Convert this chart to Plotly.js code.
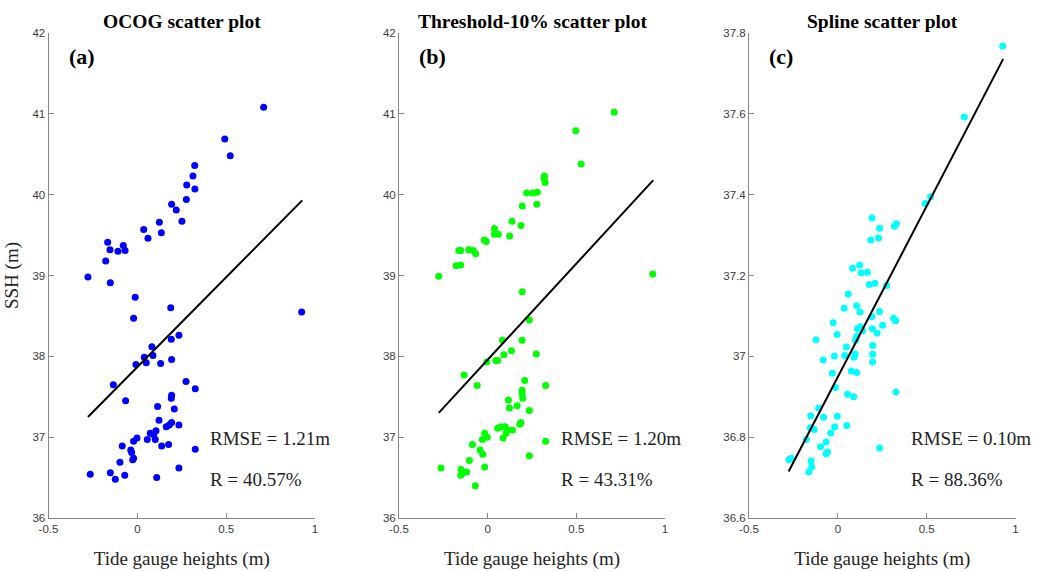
<!DOCTYPE html>
<html>
<head>
<meta charset="utf-8">
<script src="https://cdn.plot.ly/plotly-3.0.1.min.js"></script>
<style>html,body{margin:0;padding:0;background:#fff}#chart{width:1040px;height:571px}</style>
</head>
<body>
<div id="chart"></div>
<script>
// ---- Panel (a) OCOG ----
const ocogX = [0.711,0.492,0.523,0.323,0.313,0.278,0.324,0.276,0.193,0.219,0.251,0.124,0.036,0.135,0.060,-0.167,-0.079,-0.154,-0.109,-0.069,-0.178,-0.278,
  -0.152,-0.012,0.188,0.925,-0.021,0.234,0.191,0.082,0.039,0.088,-0.008,0.050,0.131,0.193,-0.135,0.274,0.326,-0.066,0.193,0.191,0.114,0.208,0.122,0.193,0.180,0.163,0.234,0.105,0.073,0.092,-0.002,-0.021,0.056,0.101,0.176,0.137,-0.085,0.326,-0.037,-0.032,-0.021,-0.026,-0.098,0.234,-0.265,-0.152,-0.071,-0.124,0.109];
const ocogY = [41.08,40.69,40.48,40.36,40.23,40.12,40.07,39.94,39.88,39.81,39.67,39.66,39.57,39.53,39.46,39.41,39.37,39.32,39.30,39.31,39.18,38.98,
  38.91,38.73,38.60,38.55,38.47,38.26,38.21,38.12,37.99,38.01,37.90,37.92,37.91,37.96,37.65,37.69,37.60,37.45,37.52,37.48,37.38,37.35,37.21,37.18,37.15,37.13,37.15,37.08,37.05,37.03,36.99,36.95,36.97,36.97,36.91,36.89,36.89,36.85,36.84,36.81,36.74,36.72,36.69,36.62,36.54,36.56,36.53,36.48,36.50];
const ocogFitX = [-0.278, 0.928];
const ocogFitY = [37.25, 39.93];

// ---- Panel (b) Threshold-10% ----
const thrX = [0.714,0.497,0.527,0.320,0.318,0.324,0.220,0.256,0.280,0.277,0.195,0.137,0.188,0.038,0.038,0.060,0.124,-0.019,-0.008,-0.107,-0.081,-0.068,-0.163,-0.152,-0.177,-0.152,-0.276,0.931,
  0.195,0.235,0.083,0.194,0.134,0.091,0.274,-0.005,0.046,0.056,-0.133,-0.059,0.327,0.209,0.194,0.194,0.198,0.117,0.123,0.166,0.235,0.187,0.181,0.075,0.057,0.098,0.110,0.140,0.087,0.104,-0.017,-0.002,-0.030,0.327,-0.086,-0.043,-0.028,-0.103,0.235,-0.263,-0.150,-0.017,-0.119,-0.152,-0.139,-0.070];
const thrY = [41.02,40.79,40.38,40.23,40.20,40.15,40.02,40.02,40.03,39.88,39.86,39.67,39.62,39.58,39.51,39.51,39.49,39.44,39.42,39.32,39.31,39.27,39.31,39.31,39.12,39.13,38.99,39.02,
  38.80,38.45,38.20,38.20,38.07,38.02,38.03,37.93,37.95,37.95,37.77,37.64,37.64,37.70,37.58,37.54,37.48,37.46,37.36,37.39,37.33,37.18,37.16,37.13,37.11,37.13,37.09,37.09,36.99,37.05,37.05,37.00,36.97,36.95,36.91,36.84,36.79,36.71,36.77,36.62,36.60,36.63,36.57,36.53,36.56,36.40];
const thrFitX = [-0.276, 0.934];
const thrFitY = [37.30, 40.18];

// ---- Panel (c) Spline ----
const splX = [0.928,0.712,0.492,0.522,0.192,0.235,0.318,0.330,0.229,0.185,0.083,0.123,0.132,0.166,
  0.177,0.209,0.275,0.059,0.106,0.125,0.036,0.235,0.192,0.314,0.326,-0.026,0.252,0.126,0.111,0.139,0.194,0.221,-0.004,-0.123,0.106,0.099,0.048,0.196,-0.020,0.039,0.091,0.097,0.196,0.196,-0.082,-0.031,0.076,0.106,-0.014,0.055,0.089,0.327,-0.108,-0.153,-0.080,-0.003,-0.155,-0.133,-0.018,0.050,-0.177,-0.040,-0.066,-0.097,0.235,-0.058,-0.066,-0.275,-0.262,-0.151,-0.147,-0.164];
const splY = [37.768,37.592,37.378,37.395,37.342,37.317,37.322,37.328,37.293,37.288,37.218,37.226,37.207,37.208,
  37.178,37.181,37.175,37.154,37.125,37.110,37.119,37.111,37.098,37.094,37.088,37.083,37.077,37.073,37.068,37.063,37.068,37.058,37.054,37.041,37.049,37.040,37.023,37.027,37.001,37.002,36.998,37.006,37.005,36.986,36.991,36.958,36.964,36.960,36.923,36.906,36.900,36.912,36.872,36.853,36.849,36.852,36.823,36.819,36.825,36.829,36.794,36.810,36.788,36.776,36.773,36.763,36.759,36.744,36.748,36.741,36.726,36.714];
const splFitX = [-0.277, 0.931];
const splFitY = [36.715, 37.736];

// ---- Text ----
const panelTitles = ["OCOG scatter plot", "Threshold-10% scatter plot", "Spline scatter plot"];
const panelLabels = ["(a)", "(b)", "(c)"];
const rmseTexts = ["RMSE = 1.21m", "RMSE = 1.20m", "RMSE = 0.10m"];
const rTexts = ["R = 40.57%", "R = 43.31%", "R = 88.36%"];
const xTickVals = [-0.5, 0, 0.5, 1];
const xTickText = ["-0.5", "0", "0.5", "1"];
const xTitle = "Tide gauge heights (m)";
const yTitle = "SSH (m)";

const serif = "Liberation Serif, Times New Roman, serif";
const sans = "Liberation Sans, Arial, sans-serif";
const colors = ["#0000ff", "#00ff00", "#00ffff"];

const sets = [[ocogX, ocogY, ocogFitX, ocogFitY], [thrX, thrY, thrFitX, thrFitY], [splX, splY, splFitX, splFitY]];
const traces = [];
sets.forEach((s, i) => {
  const ax = i === 0 ? "" : String(i + 1);
  traces.push({x: s[0], y: s[1], type: "scatter", mode: "markers", xaxis: "x" + ax, yaxis: "y" + ax,
    marker: {color: colors[i], size: 7, line: {width: 0}}, showlegend: false, hoverinfo: "skip"});
  traces.push({x: s[2], y: s[3], type: "scatter", mode: "lines", xaxis: "x" + ax, yaxis: "y" + ax,
    line: {color: "#000", width: 2}, showlegend: false, hoverinfo: "skip"});
});

const W = 1040, H = 571;
const xDomPx = [[48.5, 315], [399, 665], [749, 1015.5]];
const yDom = [(H - 518) / H, (H - 33) / H];
const yRanges = [[36, 42], [36, 42], [36.6, 37.8]];
const yDticks = [1, 1, 0.2];

const layout = {
  width: W, height: H, margin: {l: 0, r: 0, t: 0, b: 0},
  paper_bgcolor: "#fff", plot_bgcolor: "#fff",
  showlegend: false, annotations: []
};
for (let i = 0; i < 3; i++) {
  const ax = i === 0 ? "" : String(i + 1);
  layout["xaxis" + ax] = {
    domain: [xDomPx[i][0] / W, xDomPx[i][1] / W], range: [-0.5, 1], anchor: "y" + ax,
    tickmode: "array", tickvals: xTickVals, ticktext: xTickText,
    ticks: "inside", ticklen: 5, tickcolor: "#888", showline: true, linecolor: "#888", linewidth: 1,
    showgrid: false, zeroline: false, tickfont: {family: sans, size: 11.5, color: "#3a3a3a"},
    title: {text: xTitle, font: {family: serif, size: 19, color: "#222"}, standoff: 17}
  };
  layout["yaxis" + ax] = {
    domain: yDom, range: yRanges[i], anchor: "x" + ax, dtick: yDticks[i], tick0: yRanges[i][0],
    ticks: "inside", ticklen: 5, tickcolor: "#888", showline: true, linecolor: "#888", linewidth: 1,
    showgrid: false, zeroline: false, tickfont: {family: sans, size: 11.5, color: "#3a3a3a"}
  };
  const cx = (xDomPx[i][0] + xDomPx[i][1]) / 2 / W;
  layout.annotations.push({text: "<b>" + panelTitles[i] + "</b>", xref: "paper", yref: "paper",
    x: cx, y: (H - 22) / H, xanchor: "center", yanchor: "middle", showarrow: false,
    font: {family: serif, size: 19.5, color: "#000"}});
  const yr = yRanges[i], span = yr[1] - yr[0];
  layout.annotations.push({text: "<b>" + panelLabels[i] + "</b>", xref: "x" + ax, yref: "y" + ax,
    x: -0.398, y: yr[0] + span * (518 - 57) / 485, xanchor: "left", yanchor: "middle", showarrow: false,
    font: {family: serif, size: 22, color: "#000"}});
  layout.annotations.push({text: rmseTexts[i], xref: "x" + ax, yref: "y" + ax,
    x: 0.40, y: yr[0] + span * (518 - 438) / 485, xanchor: "left", yanchor: "middle", showarrow: false,
    font: {family: serif, size: 19, color: "#222"}});
  layout.annotations.push({text: rTexts[i], xref: "x" + ax, yref: "y" + ax,
    x: 0.40, y: yr[0] + span * (518 - 479) / 485, xanchor: "left", yanchor: "middle", showarrow: false,
    font: {family: serif, size: 19, color: "#222"}});
}
layout.yaxis.title = {text: yTitle, font: {family: serif, size: 19, color: "#222"}, standoff: 8};

Plotly.newPlot("chart", traces, layout, {staticPlot: true, displayModeBar: false});
</script>
</body>
</html>
